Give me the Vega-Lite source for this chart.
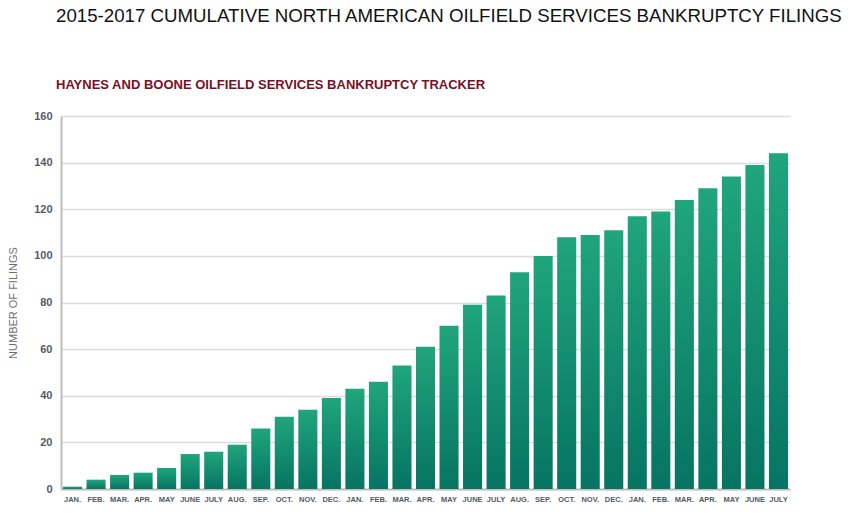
{
  "$schema": "https://vega.github.io/schema/vega-lite/v6.json",
  "width": 729,
  "height": 373,
  "padding": {"left": 7, "top": 7, "right": 5, "bottom": 5},
  "background": "white",
  "config": {"font": "Liberation Sans", "view": {"stroke": null}},
  "title": {
    "text": "2015-2017 CUMULATIVE NORTH AMERICAN OILFIELD SERVICES BANKRUPTCY FILINGS",
    "subtitle": "HAYNES AND BOONE OILFIELD SERVICES BANKRUPTCY TRACKER",
    "anchor": "start",
    "frame": "group",
    "dx": -5,
    "fontSize": 18.7,
    "fontWeight": "normal",
    "color": "#111111",
    "subtitleFontSize": 13,
    "subtitleFontWeight": "bold",
    "subtitleColor": "#7a0f1f",
    "subtitlePadding": 53,
    "offset": 18
  },
  "data": {
    "values": [
      {"key": "2015 JAN.", "filings": 1},
      {"key": "2015 FEB.", "filings": 4},
      {"key": "2015 MAR.", "filings": 6},
      {"key": "2015 APR.", "filings": 7},
      {"key": "2015 MAY", "filings": 9},
      {"key": "2015 JUNE", "filings": 15},
      {"key": "2015 JULY", "filings": 16},
      {"key": "2015 AUG.", "filings": 19},
      {"key": "2015 SEP.", "filings": 26},
      {"key": "2015 OCT.", "filings": 31},
      {"key": "2015 NOV.", "filings": 34},
      {"key": "2015 DEC.", "filings": 39},
      {"key": "2016 JAN.", "filings": 43},
      {"key": "2016 FEB.", "filings": 46},
      {"key": "2016 MAR.", "filings": 53},
      {"key": "2016 APR.", "filings": 61},
      {"key": "2016 MAY", "filings": 70},
      {"key": "2016 JUNE", "filings": 79},
      {"key": "2016 JULY", "filings": 83},
      {"key": "2016 AUG.", "filings": 93},
      {"key": "2016 SEP.", "filings": 100},
      {"key": "2016 OCT.", "filings": 108},
      {"key": "2016 NOV.", "filings": 109},
      {"key": "2016 DEC.", "filings": 111},
      {"key": "2017 JAN.", "filings": 117},
      {"key": "2017 FEB.", "filings": 119},
      {"key": "2017 MAR.", "filings": 124},
      {"key": "2017 APR.", "filings": 129},
      {"key": "2017 MAY", "filings": 134},
      {"key": "2017 JUNE", "filings": 139},
      {"key": "2017 JULY", "filings": 144}
    ]
  },
  "mark": {
    "type": "bar",
    "color": {
      "gradient": "linear",
      "x1": 0, "y1": 0, "x2": 0, "y2": 1,
      "stops": [
        {"offset": 0, "color": "#20a57c"},
        {"offset": 1, "color": "#067462"}
      ]
    }
  },
  "encoding": {
    "x": {
      "field": "key",
      "type": "ordinal",
      "sort": null,
      "scale": {"paddingInner": 0.19, "paddingOuter": 0.085},
      "axis": {
        "title": null,
        "labelAngle": 0,
        "labelExpr": "slice(datum.label, 5)",
        "labelFontSize": 7.5,
        "labelFontWeight": "bold",
        "labelColor": "#555a66",
        "labelPadding": 6,
        "labelOverlap": false,
        "ticks": false,
        "domainColor": "#bdbdbd",
        "domainWidth": 2
      }
    },
    "y": {
      "field": "filings",
      "type": "quantitative",
      "scale": {"domain": [0, 160], "nice": false},
      "axis": {
        "title": "NUMBER OF FILINGS",
        "titleFontSize": 11,
        "titleFontWeight": "normal",
        "titleColor": "#6b6f78",
        "titlePadding": 15,
        "values": [0, 20, 40, 60, 80, 100, 120, 140, 160],
        "labelFontSize": 11,
        "labelFontWeight": "bold",
        "labelColor": "#555a66",
        "labelPadding": 9,
        "ticks": false,
        "domainColor": "#bdbdbd",
        "domainWidth": 2,
        "gridColor": "#dcdcdc",
        "gridWidth": 1.5
      }
    }
  }
}
